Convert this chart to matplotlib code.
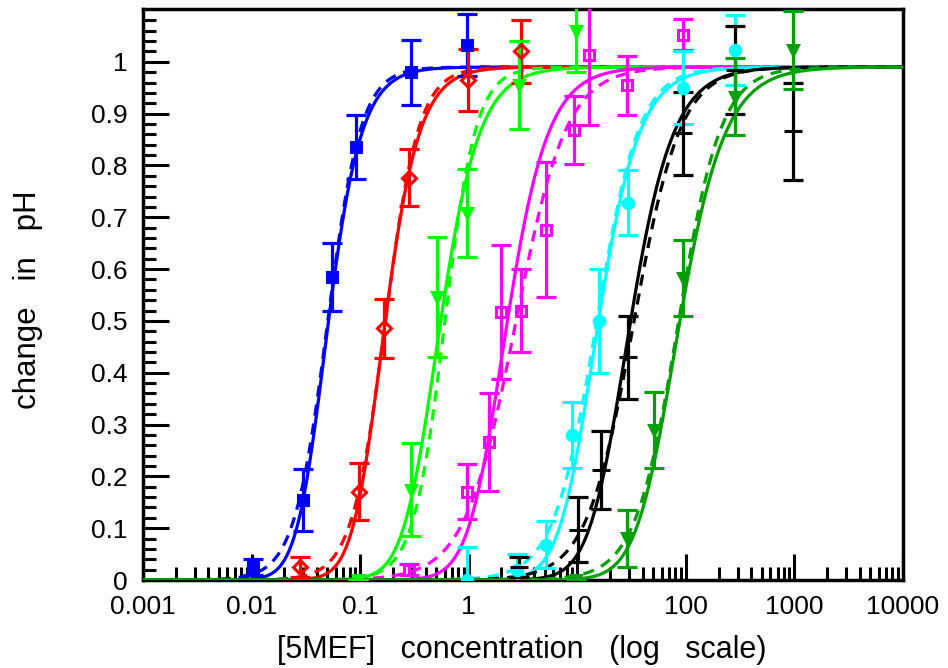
import numpy as np
import matplotlib
matplotlib.use("Agg")
import matplotlib.pyplot as plt
from matplotlib.ticker import LogLocator, FixedLocator, NullFormatter

plt.rcParams['font.family'] = ['Liberation Sans', 'DejaVu Sans']

# measured points: concentration, change in pH, error
blue_x = [0.0102, 0.0295, 0.0545, 0.092, 0.295, 0.965]
blue_y = [0.025, 0.155, 0.585, 0.836, 0.98, 1.033]
blue_err = [0.015, 0.06, 0.065, 0.062, 0.063, 0.06]

red_x = [0.0277, 0.098, 0.167, 0.284, 0.99, 3.02]
red_y = [0.025, 0.17, 0.486, 0.776, 0.965, 1.02]
red_err = [0.02, 0.055, 0.057, 0.055, 0.06, 0.06]

lime_x = [0.095, 0.295, 0.512, 0.965, 2.92, 9.66]
lime_y = [0.0, 0.174, 0.546, 0.708, 0.955, 1.06]
lime_err = [0.0, 0.09, 0.116, 0.085, 0.085, 0.08]

magenta_x = [0.28, 0.965, 1.53, 2.0, 3.0, 5.2, 9.3, 12.8, 28.4, 94.8]
magenta_y = [0.02, 0.17, 0.266, 0.517, 0.52, 0.676, 0.869, 1.013, 0.955, 1.052]
magenta_err = [0.01, 0.053, 0.095, 0.13, 0.08, 0.13, 0.066, 0.135, 0.057, 0.03]

cyan_x = [0.965, 2.8, 5.1, 8.9, 15.7, 29.6, 94.8, 285]
cyan_y = [0.0, 0.02, 0.068, 0.28, 0.50, 0.728, 0.95, 1.023]
cyan_err = [0.064, 0.03, 0.045, 0.063, 0.1, 0.063, 0.07, 0.067]

black_x = [2.9, 10.2, 16.7, 29.6, 94.8, 285, 971]
black_y = [0.025, 0.097, 0.212, 0.43, 0.862, 0.985, 0.866]
black_err = [0.02, 0.063, 0.075, 0.08, 0.08, 0.085, 0.094]

dkgreen_x = [9.66, 28.4, 50.6, 94.8, 285, 971]
dkgreen_y = [0.0, 0.081, 0.29, 0.583, 0.933, 1.023]
dkgreen_err = [0.0, 0.055, 0.073, 0.073, 0.075, 0.076]

# fitted curves: plateau, EC50 and slope per colour
plateau = 0.99
ec50_solid = [0.0355, 0.117, 0.36, 1.45, 10.0, 19.3, 53.5]
hill_solid = [2.46, 2.39, 2.1, 2.0, 2.0, 1.9, 1.8]
ec50_dashed = [0.05, 0.17, 0.6, 2.7, 15.0, 33.0, 85.0]
hill_dashed = [2.82, 2.8, 3.0, 1.85, 2.2, 2.0, 2.2]

colors = ['#0000ff', '#ff0000', '#00ff00', '#ff00ff', '#00ffff', '#000000', '#00a000']
markers = ['s', 'D', 'v', 's', 'o', '_', 'v']
filled = [True, False, True, False, True, True, True]

series = [(blue_x, blue_y, blue_err), (red_x, red_y, red_err),
          (lime_x, lime_y, lime_err), (magenta_x, magenta_y, magenta_err),
          (cyan_x, cyan_y, cyan_err), (black_x, black_y, black_err),
          (dkgreen_x, dkgreen_y, dkgreen_err)]

fig = plt.figure(figsize=(9.48, 6.68), dpi=100)
ax = fig.add_axes([143 / 948, 1 - 580 / 668, 760 / 948, 571 / 668])

xx = np.logspace(-3, 4, 800)
lw = 2.3
for i, (x, y, e) in enumerate(series):
    c = colors[i]
    # solid fit
    ys = plateau / (1 + (ec50_solid[i] / xx) ** hill_solid[i]) ** 2
    ax.plot(xx, ys, color=c, lw=lw, zorder=3)
    # dashed fit
    yd = plateau / (1 + (ec50_dashed[i] / xx) ** hill_dashed[i])
    ax.plot(xx, yd, color=c, lw=lw, ls=(0, (3.5, 2.5)), zorder=3)
    ax.errorbar(x, y, yerr=e, fmt='none', ecolor=c, elinewidth=lw,
                capsize=7, capthick=lw, zorder=4)
    ms = 13 if markers[i] == '_' else 7.5
    ax.plot(x, y, ls='none', marker=markers[i], ms=ms, color=c,
            mfc=c if filled[i] else 'none', mew=2.2, zorder=5)

ax.set_xscale('log')
ax.set_xlim(0.001, 10000)
ax.set_ylim(0, 1.102)

ax.xaxis.set_major_locator(FixedLocator([0.001, 0.01, 0.1, 1, 10, 100, 1000, 10000]))
ax.set_xticklabels(['0.001', '0.01', '0.1', '1', '10', '100', '1000', '10000'])
ax.xaxis.set_minor_locator(LogLocator(base=10, subs=np.arange(2, 10), numticks=20))
ax.xaxis.set_minor_formatter(NullFormatter())

ax.set_yticks(np.arange(0, 1.01, 0.1))
ax.set_yticklabels(['0', '0.1', '0.2', '0.3', '0.4', '0.5', '0.6', '0.7', '0.8', '0.9', '1'])
ax.yaxis.set_minor_locator(FixedLocator(np.arange(0, 1.1, 0.02)))

ax.tick_params(which='major', direction='in', length=19, width=2.2,
               labelsize=19, top=False, right=False)
ax.tick_params(axis='y', which='major', pad=11)
ax.tick_params(axis='x', which='major', pad=11)
ax.tick_params(which='minor', direction='in', length=9.5, width=2.2,
               top=False, right=False)
for sp in ax.spines.values():
    sp.set_linewidth(2.5)

fig.text(522 / 948, 1 - 650 / 668, '[5MEF]   concentration   (log   scale)',
         fontsize=22, ha='center', va='center')
fig.text(28 / 948, 1 - 300 / 668, 'change   in   pH', fontsize=22.5,
         rotation=90, ha='center', va='center')

fig.savefig('out.png', dpi=100)
